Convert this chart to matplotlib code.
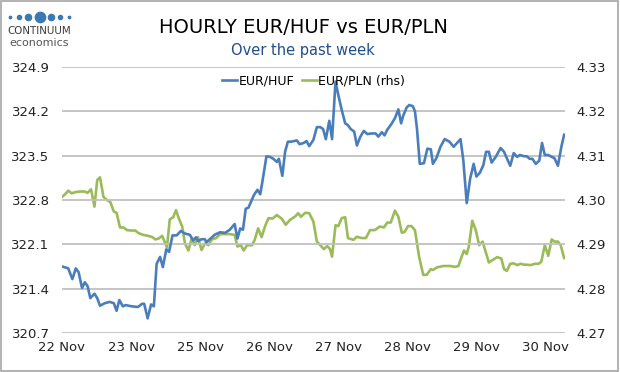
import matplotlib
matplotlib.use("Agg")
import matplotlib.pyplot as plt
from matplotlib.lines import Line2D
from matplotlib.patches import Rectangle

# ---------------- data ----------------
day_labels = ["22 Nov", "23 Nov", "25 Nov", "26 Nov", "27 Nov", "28 Nov", "29 Nov", "30 Nov"]
day_ticks = [0, 1, 2, 3, 4, 5, 6, 7]

huf_x = [0.00, 0.09, 0.15, 0.20, 0.24, 0.29, 0.33, 0.37, 0.41, 0.47, 0.51, 0.55, 0.62, 0.69, 0.75,
         0.79, 0.83, 0.88, 0.92, 1.01, 1.10, 1.16, 1.19, 1.24, 1.29, 1.33, 1.37, 1.42, 1.46, 1.51,
         1.55, 1.60, 1.66, 1.72, 1.78, 1.85, 1.90, 1.94, 1.97, 2.02, 2.07, 2.09, 2.14, 2.21, 2.29,
         2.36, 2.43, 2.50, 2.54, 2.58, 2.62, 2.66, 2.70, 2.74, 2.78, 2.83, 2.87, 2.90, 2.96, 3.01,
         3.06, 3.11, 3.14, 3.19, 3.23, 3.27, 3.32, 3.40, 3.44, 3.50, 3.54, 3.58, 3.64, 3.69, 3.74,
         3.78, 3.82, 3.87, 3.91, 3.96, 4.00, 4.05, 4.10, 4.14, 4.18, 4.23, 4.27, 4.32, 4.37, 4.42,
         4.48, 4.54, 4.58, 4.63, 4.67, 4.71, 4.77, 4.82, 4.87, 4.91, 4.94, 4.99, 5.03, 5.08, 5.11,
         5.14, 5.18, 5.24, 5.29, 5.34, 5.37, 5.42, 5.48, 5.54, 5.61, 5.67, 5.72, 5.77, 5.81, 5.86,
         5.91, 5.96, 6.00, 6.05, 6.10, 6.14, 6.18, 6.22, 6.28, 6.35, 6.40, 6.44, 6.49, 6.54, 6.59,
         6.63, 6.69, 6.73, 6.77, 6.81, 6.86, 6.91, 6.95, 6.99, 7.04, 7.09, 7.13, 7.18, 7.23, 7.27]
eur_huf = [321.75, 321.72, 321.55, 321.72, 321.66, 321.41, 321.50, 321.44, 321.25, 321.32, 321.25,
           321.13, 321.17, 321.19, 321.17, 321.05, 321.22, 321.12, 321.14, 321.12, 321.11, 321.16,
           321.16, 320.93, 321.15, 321.12, 321.79, 321.90, 321.74, 322.02, 321.98, 322.24, 322.24,
           322.31, 322.27, 322.25, 322.16, 322.21, 322.15, 322.18, 322.18, 322.13, 322.18, 322.25,
           322.29, 322.28, 322.33, 322.42, 322.19, 322.35, 322.33, 322.66, 322.68, 322.78, 322.88,
           322.96, 322.89, 323.08, 323.49, 323.48, 323.45, 323.40, 323.45, 323.18, 323.56, 323.72,
           323.72, 323.74, 323.68, 323.70, 323.73, 323.65, 323.75, 323.95, 323.95, 323.92, 323.76,
           324.05, 323.76, 324.67, 324.46, 324.22, 324.01, 323.98, 323.92, 323.88, 323.66, 323.80,
           323.89, 323.84, 323.85, 323.85, 323.80, 323.87, 323.82, 323.91, 324.00, 324.09, 324.23,
           324.01, 324.13, 324.26, 324.30, 324.28, 324.20, 323.92, 323.37, 323.38, 323.61, 323.60,
           323.37, 323.46, 323.64, 323.76, 323.72, 323.64, 323.70, 323.76, 323.43, 322.75, 323.14,
           323.37, 323.17, 323.23, 323.35, 323.56, 323.56, 323.39, 323.48, 323.62, 323.56, 323.46,
           323.34, 323.54, 323.48, 323.51, 323.49, 323.49, 323.45, 323.45, 323.37, 323.42, 323.70,
           323.51, 323.51, 323.48, 323.46, 323.34, 323.64, 323.83]

pln_x = [0.00, 0.04, 0.09, 0.14, 0.20, 0.26, 0.33, 0.37, 0.42, 0.47, 0.51, 0.55, 0.60, 0.65, 0.70,
         0.75, 0.79, 0.84, 0.89, 0.94, 1.00, 1.06, 1.11, 1.18, 1.25, 1.31, 1.35, 1.40, 1.45, 1.52,
         1.56, 1.61, 1.65, 1.69, 1.74, 1.78, 1.83, 1.88, 1.92, 1.97, 2.02, 2.07, 2.12, 2.17, 2.23,
         2.29, 2.36, 2.43, 2.50, 2.54, 2.59, 2.63, 2.68, 2.75, 2.79, 2.84, 2.89, 2.94, 2.99, 3.05,
         3.11, 3.18, 3.24, 3.30, 3.37, 3.42, 3.46, 3.52, 3.58, 3.64, 3.69, 3.74, 3.79, 3.84, 3.88,
         3.91, 3.96, 4.00, 4.05, 4.10, 4.14, 4.22, 4.27, 4.34, 4.40, 4.46, 4.53, 4.60, 4.66, 4.71,
         4.76, 4.82, 4.87, 4.92, 4.96, 5.01, 5.06, 5.11, 5.17, 5.23, 5.28, 5.34, 5.37, 5.43, 5.52,
         5.62, 5.69, 5.74, 5.77, 5.82, 5.86, 5.89, 5.94, 5.99, 6.04, 6.09, 6.14, 6.18, 6.24, 6.30,
         6.36, 6.40, 6.44, 6.49, 6.54, 6.59, 6.64, 6.69, 6.73, 6.78, 6.85, 6.90, 6.94, 6.99, 7.04,
         7.09, 7.13, 7.18, 7.22, 7.27]
eur_pln = [4.3007, 4.3012, 4.3021, 4.3015, 4.3018, 4.3019, 4.3019, 4.3016, 4.3024, 4.2985, 4.3045,
           4.3051, 4.3007, 4.3000, 4.2995, 4.2974, 4.2971, 4.2938, 4.2938, 4.2932, 4.2931, 4.2931,
           4.2925, 4.2921, 4.2919, 4.2916, 4.2911, 4.2913, 4.2919, 4.2893, 4.2956, 4.2961, 4.2977,
           4.2959, 4.2940, 4.2902, 4.2886, 4.2914, 4.2898, 4.2916, 4.2887, 4.2902, 4.2898, 4.2911,
           4.2914, 4.2923, 4.2923, 4.2923, 4.2921, 4.2895, 4.2898, 4.2886, 4.2898, 4.2898, 4.2910,
           4.2936, 4.2916, 4.2941, 4.2959, 4.2958, 4.2966, 4.2958, 4.2944, 4.2955, 4.2962, 4.2970,
           4.2962, 4.2971, 4.2970, 4.2951, 4.2906, 4.2898, 4.2889, 4.2896, 4.2889, 4.2872, 4.2943,
           4.2941, 4.2959, 4.2961, 4.2914, 4.2910, 4.2917, 4.2914, 4.2914, 4.2932, 4.2932, 4.2940,
           4.2938, 4.2949, 4.2949, 4.2976, 4.2962, 4.2926, 4.2928, 4.2941, 4.2941, 4.2932, 4.2872,
           4.2831, 4.2831, 4.2844, 4.2842, 4.2848, 4.2851, 4.2851, 4.2849, 4.2851, 4.2865, 4.2886,
           4.2878, 4.2895, 4.2953, 4.2932, 4.2898, 4.2906, 4.2880, 4.2859, 4.2865, 4.2871, 4.2868,
           4.2844, 4.2840, 4.2856, 4.2857, 4.2853, 4.2856, 4.2854, 4.2854, 4.2853, 4.2856, 4.2856,
           4.2861, 4.2898, 4.2874, 4.2911, 4.2906, 4.2906, 4.2898, 4.2869]

huf_ticks = [320.7, 321.4, 322.1, 322.8, 323.5, 324.2, 324.9]
pln_ticks = [4.27, 4.28, 4.29, 4.30, 4.31, 4.32, 4.33]

# ---------------- style ----------------
BLUE = "#4A7EBB"
GREEN = "#9BBB59"
GRID = "#C0C0C0"
TXT = "#222222"

plt.rcParams["font.family"] = ["DejaVu Sans"]

fig = plt.figure(figsize=(6.2, 3.72), dpi=100)
fig.patch.set_facecolor("white")
fig.add_artist(Rectangle((0.002, 0.003), 0.995, 0.994, transform=fig.transFigure,
                         fill=False, edgecolor="#A6A6A6", linewidth=1.2))

ax = fig.add_axes([0.100, 0.105, 0.811, 0.715])
ax2 = ax.twinx()

ax.set_xlim(0, 7.28)
ax.set_ylim(huf_ticks[0], huf_ticks[-1])
ax2.set_ylim(pln_ticks[0], pln_ticks[-1])
ax.set_yticks(huf_ticks)
ax.set_yticklabels([f"{v:.1f}" for v in huf_ticks])
ax2.set_yticks(pln_ticks)
ax2.set_yticklabels([f"{v:.2f}" for v in pln_ticks])
ax.set_xticks(day_ticks)
ax.set_xticklabels(day_labels)

for a in (ax, ax2):
    for s in a.spines.values():
        s.set_visible(False)
    a.tick_params(length=0, labelsize=9.5, labelcolor=TXT)
ax.tick_params(axis="y", pad=9)
ax2.tick_params(axis="y", pad=8.5)
ax.tick_params(axis="x", pad=6)

ax.yaxis.grid(True, color=GRID, linewidth=1.3)
ax.set_axisbelow(True)

ax.plot(huf_x, eur_huf, color=BLUE, linewidth=1.9, zorder=3)
ax2.plot(pln_x, eur_pln, color=GREEN, linewidth=1.9, zorder=3)
ax.set_zorder(ax2.get_zorder() + 1)
ax.patch.set_visible(False)

handles = [Line2D([], [], color=BLUE, linewidth=1.9),
           Line2D([], [], color=GREEN, linewidth=1.9)]
ax.legend(handles, ["EUR/HUF", "EUR/PLN (rhs)"], loc="upper center",
          bbox_to_anchor=(0.5, 0.99), ncol=2, frameon=False, fontsize=9,
          handlelength=1.2, handletextpad=0.1, columnspacing=0.6, borderaxespad=0.0)

# ---------------- titles ----------------
fig.text(0.489, 0.925, "HOURLY EUR/HUF vs EUR/PLN", ha="center", va="center",
         fontsize=14, color="#000000")
fig.text(0.489, 0.864, "Over the past week", ha="center", va="center",
         fontsize=10.5, color="#1F4E8C")

# ---------------- logo ----------------
dot_x = [10, 19, 28, 39.5, 51, 60, 69]
dot_s = [3, 9, 20, 55, 20, 9, 3]
for dx, ds in zip(dot_x, dot_s):
    fig.add_artist(Line2D([dx / 620], [1 - 16.6 / 372], marker="o", markersize=ds ** 0.5 * 1.0,
                          color="#3C78B4", linestyle="none", transform=fig.transFigure))
fig.text(39.5 / 620, 1 - 31 / 372, "CONTINUUM", ha="center", va="center",
         fontsize=7.4, color="#3A3A3A")
fig.text(39.5 / 620, 1 - 43 / 372, "economics", ha="center", va="center",
         fontsize=8, color="#555555")

fig.savefig("out.png", dpi=100, facecolor="white")
